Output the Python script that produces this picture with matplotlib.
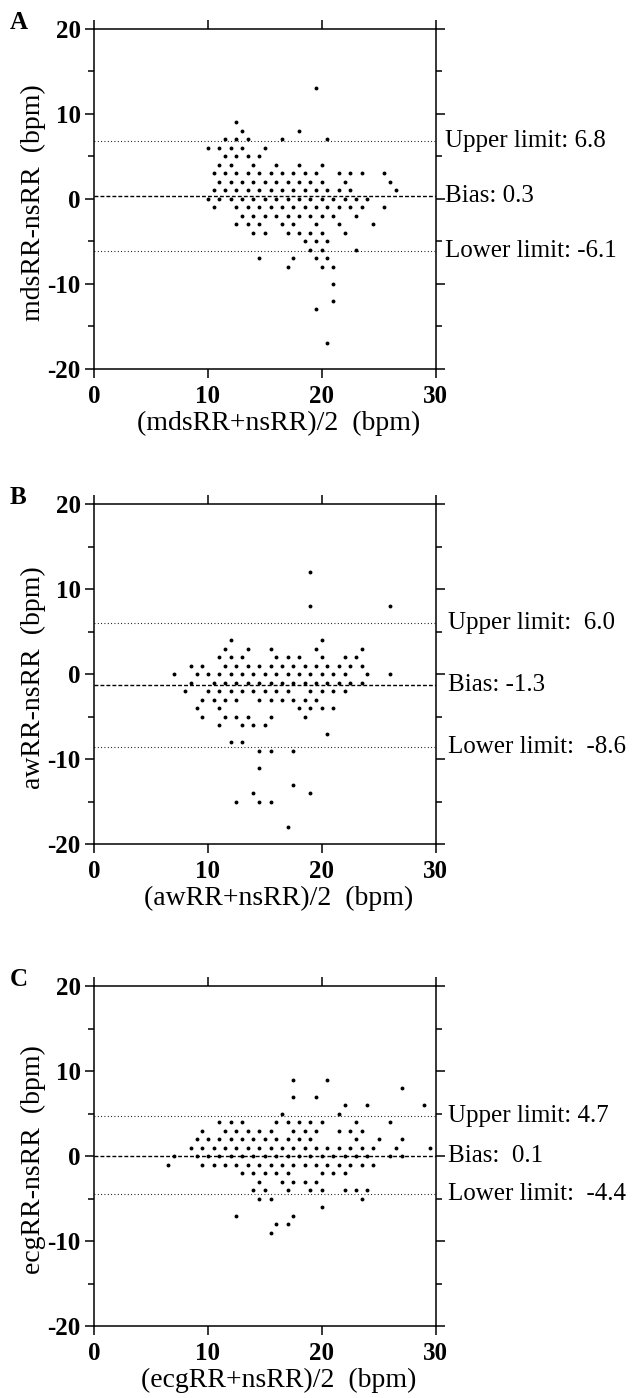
import matplotlib
matplotlib.use('Agg')
import matplotlib.pyplot as plt
from matplotlib.ticker import MultipleLocator

plt.rcParams['font.family'] = ['Liberation Serif', 'DejaVu Serif']
plt.rcParams['axes.unicode_minus'] = False

# ---------------- data (mean x, difference y) ----------------
# panel A : mdsRR vs nsRR
a_x = [19.5,
       12.5,
       13, 18,
       11.5, 12.5, 13.5, 16.5, 20.5,
       10, 11, 12, 13, 15,
       11.5, 12.5, 13.5, 14.5,
       11, 12, 14, 16, 18, 20,
       10.5, 11.5, 12.5, 13.5, 14.5, 15.5, 16.5, 17.5, 18.5, 19.5, 21.5, 22.5, 23.5, 25.5,
       11, 12, 13, 14, 15, 16, 17, 18, 19, 20, 22, 26,
       10.5, 11.5, 12.5, 13.5, 14.5, 15.5, 16.5, 17.5, 18.5, 19.5, 20.5, 21.5, 22.5, 26.5,
       10, 11, 12, 13, 14, 15, 16, 17, 18, 19, 20, 21, 22, 23, 24,
       10.5, 12.5, 13.5, 14.5, 15.5, 16.5, 17.5, 18.5, 19.5, 20.5, 21.5, 22.5, 23.5, 25.5,
       13, 14, 15, 16, 17, 18, 19, 20, 21, 23,
       12.5, 13.5, 14.5, 16.5, 17.5, 19.5, 21.5, 24.5,
       14, 15, 17, 18, 19, 20, 22,
       18.5, 19.5, 20.5,
       19, 20, 23,
       14.5, 17.5, 19.5, 20.5,
       17, 20, 21,
       21,
       21,
       19.5,
       20.5]
a_y = [13,
       9,
       8, 8,
       7, 7, 7, 7, 7,
       6, 6, 6, 6, 6,
       5, 5, 5, 5,
       4, 4, 4, 4, 4, 4,
       3, 3, 3, 3, 3, 3, 3, 3, 3, 3, 3, 3, 3, 3,
       2, 2, 2, 2, 2, 2, 2, 2, 2, 2, 2, 2,
       1, 1, 1, 1, 1, 1, 1, 1, 1, 1, 1, 1, 1, 1,
       0, 0, 0, 0, 0, 0, 0, 0, 0, 0, 0, 0, 0, 0, 0,
       -1, -1, -1, -1, -1, -1, -1, -1, -1, -1, -1, -1, -1, -1,
       -2, -2, -2, -2, -2, -2, -2, -2, -2, -2,
       -3, -3, -3, -3, -3, -3, -3, -3,
       -4, -4, -4, -4, -4, -4, -4,
       -5, -5, -5,
       -6, -6, -6,
       -7, -7, -7, -7,
       -8, -8, -8,
       -10,
       -12,
       -13,
       -17]

# panel B : awRR vs nsRR
b_x = [19,
       19, 26,
       12, 20,
       11.5, 13.5, 15.5, 19.5, 23.5,
       11, 12, 13, 16, 17, 18, 20, 22, 23,
       8.5, 9.5, 11.5, 12.5, 13.5, 14.5, 15.5, 16.5, 17.5, 18.5, 19.5, 20.5, 21.5, 22.5, 23.5,
       7, 9, 10, 11, 12, 13, 14, 15, 16, 17, 18, 19, 20, 21, 22, 24, 26,
       8.5, 10.5, 11.5, 12.5, 13.5, 14.5, 15.5, 16.5, 17.5, 18.5, 19.5, 20.5, 21.5, 22.5, 23.5,
       8, 10, 11, 12, 13, 14, 15, 16, 17, 19, 20, 21, 22,
       9.5, 10.5, 11.5, 12.5, 14.5, 15.5, 16.5, 17.5, 18.5, 19.5,
       9, 11, 18, 19, 20, 21,
       9.5, 11.5, 12.5, 13.5, 15.5, 18.5,
       11, 13, 14, 15,
       20.5,
       12, 13,
       14.5, 15.5, 17.5,
       14.5,
       17.5,
       14, 19,
       12.5, 14.5, 15.5,
       17]
b_y = [12,
       8, 8,
       4, 4,
       3, 3, 3, 3, 3,
       2, 2, 2, 2, 2, 2, 2, 2, 2,
       1, 1, 1, 1, 1, 1, 1, 1, 1, 1, 1, 1, 1, 1, 1,
       0, 0, 0, 0, 0, 0, 0, 0, 0, 0, 0, 0, 0, 0, 0, 0, 0,
       -1, -1, -1, -1, -1, -1, -1, -1, -1, -1, -1, -1, -1, -1, -1,
       -2, -2, -2, -2, -2, -2, -2, -2, -2, -2, -2, -2, -2,
       -3, -3, -3, -3, -3, -3, -3, -3, -3, -3,
       -4, -4, -4, -4, -4, -4,
       -5, -5, -5, -5, -5, -5,
       -6, -6, -6, -6,
       -7,
       -8, -8,
       -9, -9, -9,
       -11,
       -13,
       -14, -14,
       -15, -15, -15,
       -18]

# panel C : ecgRR vs nsRR
c_x = [17.5, 20.5,
       27,
       17.5, 19.5,
       22, 24, 29,
       16.5, 21.5,
       11, 12, 13, 16, 17, 18, 19, 20, 23, 26,
       9.5, 11.5, 12.5, 13.5, 14.5, 15.5, 17.5, 18.5, 19.5, 21.5, 22.5, 23.5,
       9, 10, 11, 12, 13, 14, 15, 16, 17, 18, 19, 23, 25, 27,
       8.5, 9.5, 10.5, 11.5, 12.5, 13.5, 14.5, 15.5, 16.5, 17.5, 18.5, 19.5, 20.5, 21.5, 22.5, 23.5, 24.5, 26.5, 29.5,
       7, 9, 10, 11, 12, 13, 14, 15, 16, 17, 18, 19, 20, 21, 22, 23, 24, 26, 27,
       6.5, 9.5, 10.5, 11.5, 12.5, 13.5, 14.5, 15.5, 16.5, 17.5, 18.5, 19.5, 20.5, 21.5, 22.5, 23.5, 24.5,
       13, 14, 15, 16, 17, 20, 21, 22,
       14.5, 16.5, 17.5, 18.5, 19.5,
       14, 15, 17, 19, 20, 22, 23, 24,
       14.5, 15.5, 23.5,
       20,
       12.5, 17.5,
       16, 17,
       15.5]
c_y = [9, 9,
       8,
       7, 7,
       6, 6, 6,
       5, 5,
       4, 4, 4, 4, 4, 4, 4, 4, 4, 4,
       3, 3, 3, 3, 3, 3, 3, 3, 3, 3, 3, 3,
       2, 2, 2, 2, 2, 2, 2, 2, 2, 2, 2, 2, 2, 2,
       1, 1, 1, 1, 1, 1, 1, 1, 1, 1, 1, 1, 1, 1, 1, 1, 1, 1, 1,
       0, 0, 0, 0, 0, 0, 0, 0, 0, 0, 0, 0, 0, 0, 0, 0, 0, 0, 0,
       -1, -1, -1, -1, -1, -1, -1, -1, -1, -1, -1, -1, -1, -1, -1, -1, -1,
       -2, -2, -2, -2, -2, -2, -2, -2,
       -3, -3, -3, -3, -3,
       -4, -4, -4, -4, -4, -4, -4, -4,
       -5, -5, -5,
       -6,
       -7, -7,
       -8, -8,
       -9]

# bias and limits of agreement
bias = [0.3, -1.3, 0.1]
upper = [6.8, 6.0, 4.7]
lower = [-6.1, -8.6, -4.4]
upper_txt = ['Upper limit: 6.8', 'Upper limit:  6.0', 'Upper limit: 4.7']
bias_txt = ['Bias: 0.3', 'Bias: -1.3', 'Bias:  0.1']
lower_txt = ['Lower limit: -6.1', 'Lower limit:  -8.6', 'Lower limit:  -4.4']
ylabels = ['mdsRR-nsRR  (bpm)', 'awRR-nsRR  (bpm)', 'ecgRR-nsRR  (bpm)']
xlabels = ['(mdsRR+nsRR)/2  (bpm)', '(awRR+nsRR)/2  (bpm)', '(ecgRR+nsRR)/2  (bpm)']
letters = ['A', 'B', 'C']
txt_x = [30.85, 31.1, 31.1]

xs_all = [a_x, b_x, c_x]
ys_all = [a_y, b_y, c_y]

fig = plt.figure(figsize=(6.33, 13.98), dpi=100)
bottoms = [0.7361, 0.3960, 0.0512]

for i in range(3):
    ax = fig.add_axes([0.1485, bottoms[i], 0.5398, 0.2432])
    ax.plot(xs_all[i], ys_all[i], ls='', marker='o', ms=2.8, mew=0, c='k')

    ax.axhline(bias[i], color='k', lw=1.0, ls=(0, (2.8, 1.5)))
    ax.axhline(upper[i], color='k', lw=0.8, ls=(0, (0.8, 2.2)))
    ax.axhline(lower[i], color='k', lw=0.8, ls=(0, (0.8, 2.2)))

    ax.text(txt_x[i], upper[i], upper_txt[i], fontsize=18, va='center', ha='left')
    ax.text(txt_x[i], bias[i], bias_txt[i], fontsize=18, va='center', ha='left')
    ax.text(txt_x[i], lower[i], lower_txt[i], fontsize=18, va='center', ha='left')

    ax.set_xlim(0, 30)
    ax.set_ylim(-20, 20)
    ax.xaxis.set_major_locator(MultipleLocator(10))
    ax.yaxis.set_major_locator(MultipleLocator(10))
    ax.yaxis.set_minor_locator(MultipleLocator(5))
    for s in ax.spines.values():
        s.set_linewidth(1.1)
    ax.tick_params(which='both', direction='out', top=True, right=True,
                   width=1.1)
    ax.tick_params(which='major', length=6.5)
    ax.tick_params(which='minor', length=4.5)
    ax.tick_params(axis='y', pad=3)
    ax.tick_params(axis='x', pad=5)
    for lab in ax.get_xticklabels() + ax.get_yticklabels():
        lab.set_fontweight('bold')
        lab.set_fontsize(18)

    ax.set_ylabel(ylabels[i], fontsize=20)
    ax.yaxis.set_label_coords(-0.14, 0.49)
    ax.set_xlabel(xlabels[i], fontsize=20, va='center')
    ax.xaxis.set_label_coords(0.54, -0.16)

    ax.text(-0.246, 1.0, letters[i], transform=ax.transAxes, fontsize=18,
            fontweight='bold', va='baseline', ha='left')

fig.savefig('out.png', dpi=100)
